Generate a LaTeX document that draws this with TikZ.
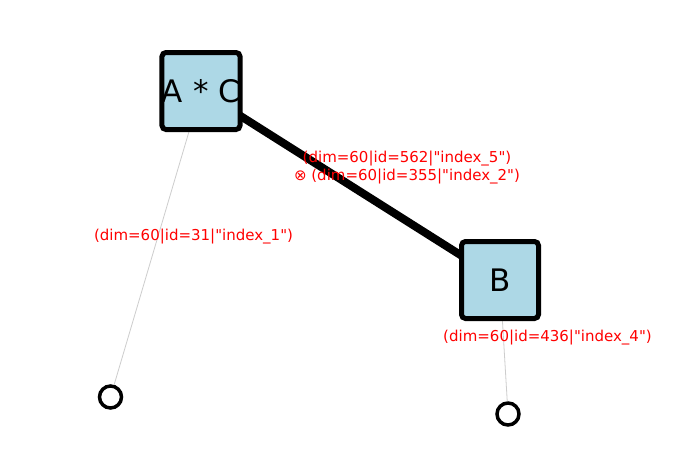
\documentclass[tikz,border=0pt]{standalone}
\usepackage{fontspec}
\setmainfont{DejaVu Sans}[Ligatures=TeXOff]
\definecolor{nodeblue}{RGB}{173,216,230}
\definecolor{lblred}{RGB}{255,0,0}
\definecolor{thingrey}{RGB}{205,205,205}
\tikzset{
  tensor/.style={draw=black, line width=5pt, fill=nodeblue, rounded corners=4pt,
    minimum width=77pt, minimum height=77pt, inner sep=0pt, font=\fontsize{31}{34}\selectfont},
  openend/.style={circle, draw=black, line width=3.5pt, minimum size=22pt, inner sep=0pt},
  thickedge/.style={line width=8pt, black},
  thinedge/.style={line width=0.8pt, thingrey},
  elabel/.style={text=lblred, font=\fontsize{15}{18}\selectfont, align=center, inner sep=0pt}
}
\begin{document}
\begin{tikzpicture}[x=1pt,y=-1pt]
\useasboundingbox (0,0) rectangle (686,448);
\fill[white] (0,0) rectangle (686,448);
\coordinate (ac) at (201,91);
\coordinate (b) at (500,280);
\node[openend] (o1) at (110.5,397) {};
\node[openend] (o2) at (508,414) {};
\draw[thickedge] (ac) -- (b);
\draw[thinedge] (ac) -- (o1);
\draw[thinedge] (b) -- (o2);
\node[tensor] (nac) at (ac) {A * C};
\node[tensor] (nb) at (b) {B};
\node[elabel] (l1) at (193.5,237) {(dim=60|id=31|"index\_1")};
\node[elabel] (l25) at (407,168) {(dim=60|id=562|"index\_5")\\⊗ (dim=60|id=355|"index\_2")};
\node[elabel] (l4) at (547.5,338) {(dim=60|id=436|"index\_4")};
\end{tikzpicture}
\end{document}
